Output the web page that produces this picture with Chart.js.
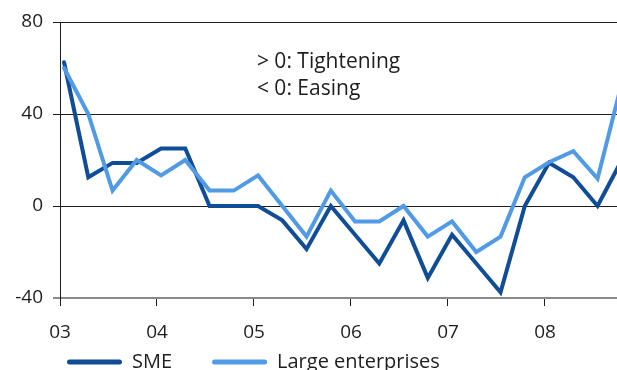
<!DOCTYPE html>
<html>
<head>
<meta charset="utf-8">
<script src="https://cdn.jsdelivr.net/npm/chart.js@4.4.1/dist/chart.umd.min.js"></script>
<style>
  html, body { margin: 0; padding: 0; overflow: hidden; background: #fff; }
  #wrap { width: 617px; height: 412px; }
</style>
</head>
<body>
<div id="wrap"><canvas id="chart" width="617" height="412"></canvas></div>
<script>
// Quarterly survey balances (net percentage of banks), 2003 Q1 – 2008 Q4
const quarters = [
  '03Q1', '03Q2', '03Q3', '03Q4',
  '04Q1', '04Q2', '04Q3', '04Q4',
  '05Q1', '05Q2', '05Q3', '05Q4',
  '06Q1', '06Q2', '06Q3', '06Q4',
  '07Q1', '07Q2', '07Q3', '07Q4',
  '08Q1', '08Q2', '08Q3', '08Q4'
];
const sme = [
  62.5, 12.5, 18.75, 18.75,
  25, 25, 0, 0,
  0, -6.25, -18.75, 0,
  -12.5, -25, -6.25, -31.25,
  -12.5, -25, -37.5, 0,
  18.75, 12.5, 0, 20
];
const largeEnterprises = [
  60, 40, 6.7, 20,
  13.3, 20, 6.7, 6.7,
  13.3, 0, -13.3, 6.7,
  -6.7, -6.7, 0, -13.3,
  -6.7, -20, -13.3, 12.5,
  19, 23.8, 11.9, 53.5
];
const seriesNames = ['SME', 'Large enterprises'];
const yearLabels = ['03', '04', '05', '06', '07', '08'];
const yTickValues = [-40, 0, 40, 80];
const noteLines = ['> 0: Tightening', '< 0: Easing'];

const DARK = '#0f4d97';
const LIGHT = '#519ae6';
const INK = '#1e1e1e';
const AXIS_GREY = '#8a8a8a';
const FONT = "'Open Sans', sans-serif";

// Each quarter sits half a month into its first month on a decimal-year axis
function quarterPos(q) {
  const year = 2000 + Number(q.slice(0, 2));
  const n = Number(q.slice(3));
  return year + (n - 1) / 4 + 1 / 24;
}
const yearValue = (label) => 2000 + Number(label);

const toPoints = (values) => values.map((v, i) => ({ x: quarterPos(quarters[i]), y: v }));

// Explanatory note in the upper plot area
const notePlugin = {
  id: 'note',
  afterDraw(chart) {
    const { ctx, scales: { x, y } } = chart;
    ctx.save();
    ctx.font = `21px ${FONT}`;
    ctx.fillStyle = INK;
    ctx.textAlign = 'left';
    ctx.textBaseline = 'middle';
    const left = x.getPixelForValue(2005.03);
    ctx.fillText(noteLines[0], left, y.getPixelForValue(62.5));
    ctx.fillText(noteLines[1], left, y.getPixelForValue(51));
    ctx.restore();
  }
};

// Tuck the legend up under the axis labels and indent it from the left edge
const legendPlacement = {
  id: 'legendPlacement',
  afterLayout(chart) {
    const lg = chart.legend;
    if (!lg) return;
    lg.top -= 30; lg.bottom -= 30;
    lg.left += 27; lg.right += 27;
  }
};

new Chart(document.getElementById('chart'), {
  type: 'line',
  data: {
    datasets: [
      {
        label: seriesNames[0],
        data: toPoints(sme),
        borderColor: DARK,
        backgroundColor: DARK,
        borderWidth: 4,
        pointRadius: 0,
        tension: 0,
        borderCapStyle: 'round',
        order: 1
      },
      {
        label: seriesNames[1],
        data: toPoints(largeEnterprises),
        borderColor: LIGHT,
        backgroundColor: LIGHT,
        borderWidth: 4,
        pointRadius: 0,
        tension: 0,
        borderCapStyle: 'round',
        order: 0
      }
    ]
  },
  options: {
    responsive: false,
    devicePixelRatio: 1,
    animation: false,
    layout: { padding: { left: 0, top: 22, right: 0, bottom: 0 } },
    plugins: {
      tooltip: { enabled: false },
      legend: {
        position: 'bottom',
        align: 'start',
        labels: {
          boxWidth: 55,
          boxHeight: 5,
          padding: 40,
          color: INK,
          font: { family: FONT, size: 20 },
          useBorderRadius: true,
          borderRadius: 2.5,
          sort: (a, b) => a.datasetIndex - b.datasetIndex,
          generateLabels(chart) {
            return Chart.defaults.plugins.legend.labels.generateLabels(chart)
              .map((item) => Object.assign(item, { lineWidth: 0 }));
          }
        }
      }
    },
    scales: {
      x: {
        type: 'linear',
        min: 2003,
        max: 2003 + 557 / 97,
        afterFit(scale) { scale.height = 44; },
        afterBuildTicks(scale) {
          scale.ticks = yearLabels.map((l) => ({ value: yearValue(l) }));
        },
        ticks: {
          color: INK,
          font: { family: FONT, size: 19 },
          padding: 15,
          maxRotation: 0,
          autoSkip: false,
          callback(value) {
            const i = yearLabels.findIndex((l) => yearValue(l) === value);
            return i >= 0 ? yearLabels[i] : '';
          }
        },
        grid: {
          drawOnChartArea: false,
          drawTicks: true,
          tickLength: 8,
          color: INK,
          lineWidth: 1
        },
        border: { display: true, color: AXIS_GREY, width: 2 }
      },
      y: {
        min: -40,
        max: 80,
        afterFit(scale) { scale.width = 60; },
        afterBuildTicks(scale) {
          scale.ticks = yTickValues.map((v) => ({ value: v }));
        },
        ticks: {
          color: INK,
          font: { family: FONT, size: 19 },
          padding: 10
        },
        grid: {
          drawTicks: true,
          tickLength: 7,
          color: (c) => (c.tick && c.tick.value === -40 ? AXIS_GREY : INK),
          lineWidth: (c) => (c.tick && c.tick.value === -40 ? 2 : 1)
        },
        border: { display: true, color: INK, width: 1 }
      }
    }
  },
  plugins: [notePlugin, legendPlacement]
});
</script>
</body>
</html>
